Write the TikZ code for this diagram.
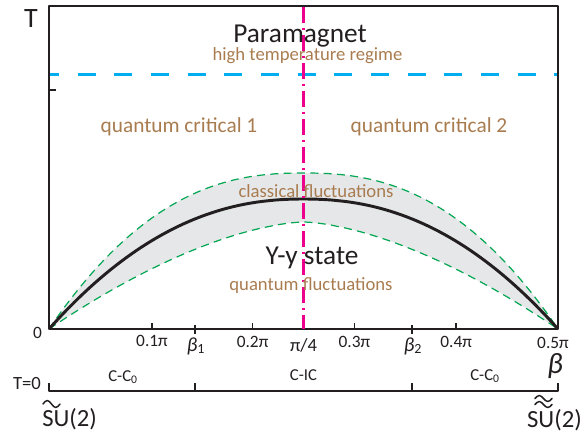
\documentclass[tikz,border=0pt]{standalone}
\usepackage{fontspec}
\setmainfont{Carlito}
\definecolor{ink}{RGB}{35,31,32}
\definecolor{tanlbl}{RGB}{169,124,80}
\definecolor{skyline}{RGB}{0,174,239}
\definecolor{hotpink}{RGB}{236,0,140}
\definecolor{greenline}{RGB}{0,166,81}
\definecolor{bandgray}{RGB}{230,231,232}
\newcommand\fsz[1]{\fontsize{#1}{#1}\selectfont}
\tikzset{
  txt/.style={text=ink,inner sep=0pt},
  biglabel/.style={txt,font=\fsz{20.5}},
  tanlabel/.style={text=tanlbl,inner sep=0pt,font=\fsz{14}},
  regionlabel/.style={text=tanlbl,inner sep=0pt,font=\fsz{16}},
  ticklabel/.style={txt,font=\fsz{13}},
  phaselabel/.style={txt,font=\fsz{12.5}},
  groundlabel/.style={txt,font=\fsz{18.5}},
  boundary/.style={draw=greenline,line width=0.9pt,dash pattern=on 6pt off 4pt},
  midline/.style={draw=hotpink,line width=1.6pt,dash pattern=on 12pt off 3.5pt on 2pt off 3.5pt},
  tildemark/.style={draw=ink,line width=1.1pt,line cap=round},
}

\begin{document}
\begin{tikzpicture}[x=0.75pt,y=-0.75pt,line join=round]
  \useasboundingbox (0,0) rectangle (582,437);
  \fill[bandgray] plot[domain=0:1,samples=100] ({49+509*\x},{329-156*(1-abs(1-2*\x)^2.4)})
    -- plot[domain=1:0,samples=100] ({49+509*\x},{329-107*(1-abs(1-2*\x)^1.6)}) -- cycle;
  \draw[draw=skyline,line width=2pt,dash pattern=on 13.5pt off 14pt,dash phase=6pt] (49,74.7) -- (558,74.7);
  \draw[boundary] plot[domain=0:1,samples=100] ({49+509*\x},{329-156*(1-abs(1-2*\x)^2.4)});
  \draw[boundary] plot[domain=0:1,samples=100] ({49+509*\x},{329-107*(1-abs(1-2*\x)^1.6)});
  \draw[draw=ink,line width=2.2pt] plot[domain=0:1,samples=100] ({49+509*\x},{329-130*(1-abs(1-2*\x)^2.2)});
  \draw[draw=ink,line width=1pt] (49,6) rectangle (558,329);
  \draw[draw=ink,line width=1.5pt] (49,90) -- (56,90);
  \foreach \tx in {151.8,252.6,354.4,456.2}
    \draw[draw=ink,line width=1.3pt] (\tx,323) -- (\tx,329);
  \foreach \tx in {195,411.7}
    \draw[draw=ink,line width=1.3pt] (\tx,325) -- (\tx,334);
  \draw[draw=ink,line width=1.5pt] (49,383) -- (49,391) -- (558,391) -- (558,383);
  \foreach \tx in {195,411.7}
    \draw[draw=ink,line width=1.5pt] (\tx,383) -- (\tx,391);
  \path[midline] (303.5,7) -- (303.5,329);

  \node[txt,font=\fsz{21}] (taxis) at (31,19) {T};
  \node[biglabel] (para) at (300,36) {Paramagnet};
  \node[tanlabel] (hightemp) at (307.5,56) {high temperature regime};
  \node[regionlabel] (qcone) at (179,127) {quantum critical 1};
  \node[regionlabel] (qctwo) at (429,127) {quantum critical 2};
  \node[tanlabel] (classfl) at (316,191.5) {classical fluctuations};
  \node[biglabel] (yystate) at (312,258) {Y-y state};
  \node[tanlabel] (quantfl) at (311,285.5) {quantum fluctuations};

  \node[ticklabel] (zero) at (37.5,333) {0};
  \node[ticklabel] (tenth) at (152,341) {0.1π};
  \node[ticklabel,font=\fsz{15}] (betaone) at (196,346) {\textit{β}\textsubscript{1}};
  \node[ticklabel] (twotenth) at (252.6,342) {0.2π};
  \node[ticklabel,font=\fsz{14}] (quarter) at (303.5,345) {π/4};
  \node[ticklabel] (threetenth) at (354.4,342) {0.3π};
  \node[ticklabel,font=\fsz{15}] (betatwo) at (413,346) {\textit{β}\textsubscript{2}};
  \node[ticklabel] (fourtenth) at (456.2,342) {0.4π};
  \node[ticklabel] (half) at (553,343) {0.5π};
  \node[txt,font=\fsz{22}] (beta) at (555,366) {\textit{β}};

  \node[ticklabel,font=\fsz{14}] (tzero) at (27,383) {T=0};
  \node[phaselabel] (ccleft) at (123,377) {C-C\textsubscript{0}};
  \node[phaselabel] (cic) at (303.5,375) {C-IC};
  \node[phaselabel] (ccright) at (485,376) {C-C\textsubscript{0}};
  \node[groundlabel,anchor=base west] (sutilde) at (42,426) {SU(2)};
  \node[groundlabel,anchor=base east] (sudtilde) at (582,427) {SU(2)};
  \draw[tildemark] (43,404) sin (47.2,400.5) cos (51.5,404) sin (55.8,407.5) cos (60,404);
  \draw[tildemark] (535,398.5) sin (539.3,395.5) cos (543.5,398.5) sin (547.8,401.5) cos (552,398.5);
  \draw[tildemark] (535,404.5) sin (539.3,401.5) cos (543.5,404.5) sin (547.8,407.5) cos (552,404.5);
\end{tikzpicture}
\end{document}
